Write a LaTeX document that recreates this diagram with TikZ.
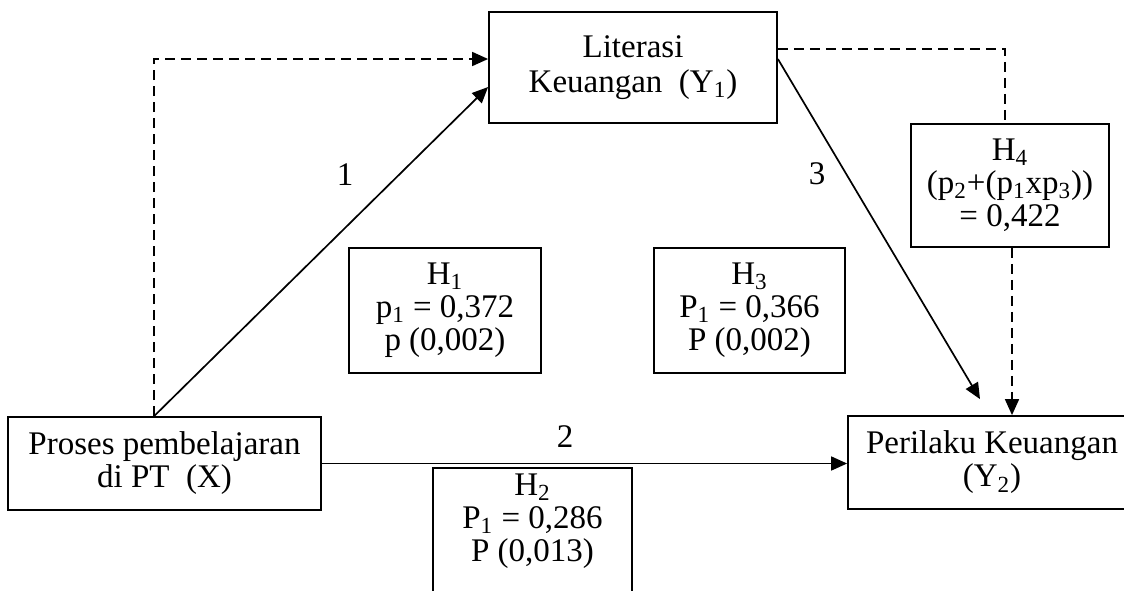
\documentclass[tikz,border=0pt]{standalone}
\usepackage{fontspec}
\setmainfont{Liberation Serif}
\usetikzlibrary{arrows.meta}
\begin{document}
\begin{tikzpicture}[x=0.5pt,y=-0.5pt,
  box/.style={draw, line width=0.9pt, align=center, inner sep=0pt, font=\fontsize{16.5}{16.5}\selectfont},
  txt/.style={align=center, inner sep=0pt, font=\fontsize{16.5}{16.5}\selectfont},
  conn/.style={line width=0.85pt, -{Triangle[length=8pt,width=7pt]}},
  dconn/.style={conn, dash pattern=on 5pt off 3pt},
  dline/.style={line width=0.85pt, dash pattern=on 5pt off 3pt}]
\useasboundingbox (0,0) rectangle (1124,590);
\clip (0,0) rectangle (1124,590);
\node[box, minimum width=156.5pt, minimum height=46.5pt] (x) at (164.5,463.5) {Proses pembelajaran\\di PT\ \ (X)};
\node[box, minimum width=144pt, minimum height=55.5pt, font=\fontsize{16.5}{17.5}\selectfont] (y1) at (633,67.5) {Literasi\\Keuangan\ \ (Y\textsubscript{1})};
\node[box, minimum width=144pt, minimum height=46.5pt] (y2) at (992,462.5) {Perilaku Keuangan\\(Y\textsubscript{2})};
\node[box, minimum width=96pt, minimum height=62.5pt] (h1) at (445,310.5) {H\textsubscript{1}\\p\textsubscript{1} = 0,372\\p (0,002)};
\node[box, minimum width=95.5pt, minimum height=62.5pt] (h3) at (749.5,310.5) {H\textsubscript{3}\\P\textsubscript{1} = 0,366\\P (0,002)};
\node[box, minimum width=99pt, minimum height=61.5pt] (h4) at (1010,185.5) {H\textsubscript{4}\\(p\textsubscript{2}+(p\textsubscript{1}xp\textsubscript{3}))\\= 0,422};
\node[box, minimum width=99.5pt, minimum height=76pt] (h2) at (532.5,544) {};
\node[txt] (h2t) at (532.5,521.5) {H\textsubscript{2}\\P\textsubscript{1} = 0,286\\P (0,013)};
\node[txt] (l1) at (345,175) {1};
\node[txt] (l2) at (565,437) {2};
\node[txt] (l3) at (817,174) {3};
% connectors
\draw[dconn] ([xshift=73.5pt]x.north west) |- ([yshift=4.25pt]y1.west);
\draw[conn] ([xshift=73.5pt]x.north west) -- ([yshift=-9.75pt]y1.west);
\draw[conn] (x.east) -- (y2.west |- x.east);
\draw[conn] ([yshift=4.25pt]y1.east) -- ([xshift=-6pt,yshift=8pt]y2.north);
\draw[dline] ([yshift=9.25pt]y1.east) -| ([xshift=-2.5pt]h4.north);
\draw[dconn] ([xshift=1pt]h4.south) -- ([xshift=1pt]h4.south |- y2.north);
\end{tikzpicture}
\end{document}
